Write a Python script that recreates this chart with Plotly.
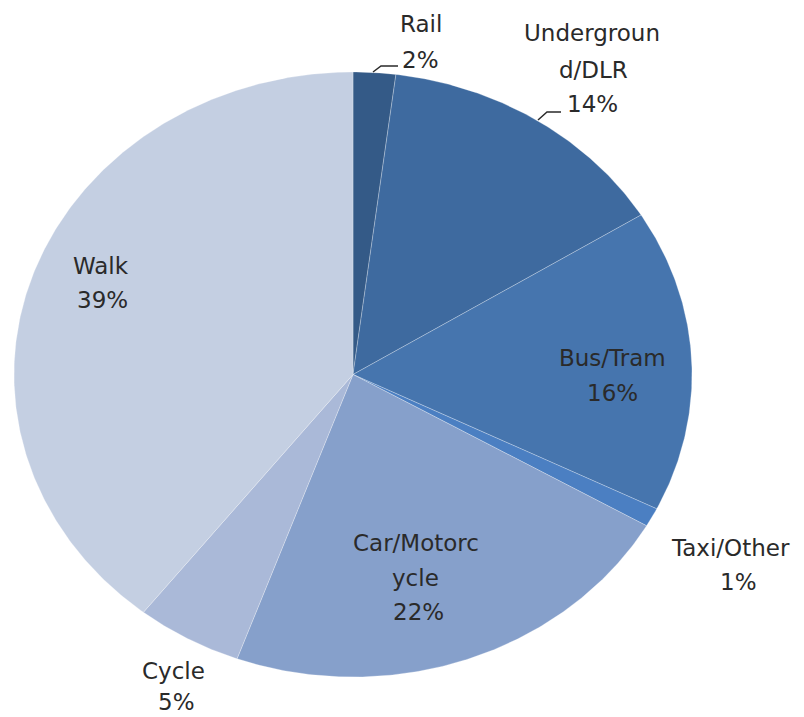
import numpy as np
import plotly.graph_objects as go

# ---- data ----
categories = ["Rail", "Underground/DLR", "Bus/Tram", "Taxi/Other", "Car/Motorcycle", "Cycle", "Walk"]
shares = [2, 14, 16, 1, 22, 5, 39]
pct_labels = ["2%", "14%", "16%", "1%", "22%", "5%", "39%"]
name_lines = [["Rail"], ["Undergroun", "d/DLR"], ["Bus/Tram"], ["Taxi/Other"],
              ["Car/Motorc", "ycle"], ["Cycle"], ["Walk"]]
colors = ["#345a87", "#3e6a9f", "#4675ae", "#4b7fc2", "#86a0cb", "#aab9d8", "#c4cfe2"]

# ---- layout geometry (pixel space) ----
W, H = 804, 717
cx, cy, rx, ry = 353, 374.5, 339, 302.5
label_pos = [
    [(421, 24), (420, 60)],
    [(592, 33), (593, 70), (592, 104)],
    [(612, 358), (612, 393)],
    [(730, 548), (738, 582)],
    [(416, 543), (415, 578), (418, 612)],
    [(173, 671), (176, 702)],
    [(101, 266), (102, 300)],
]
leaders = [
    [(373, 72), (381, 66), (398, 66)],
    [(538, 120), (547, 112), (561, 112)],
]

total = float(sum(shares))
fig = go.Figure()
start = 0.0
for cat, v, col in zip(categories, shares, colors):
    a0 = start / total * 2 * np.pi
    a1 = (start + v) / total * 2 * np.pi
    n = max(int((a1 - a0) / (2 * np.pi) * 720), 4)
    t = np.linspace(a0, a1, n)
    xs = np.concatenate([[cx], cx + rx * np.sin(t), [cx]])
    ys = np.concatenate([[cy], cy - ry * np.cos(t), [cy]])
    fig.add_trace(go.Scatter(x=xs, y=ys, mode="lines", fill="toself", fillcolor=col,
                             line=dict(color="rgba(255,255,255,0.45)", width=0.6),
                             name=cat, hoverinfo="name", showlegend=False))
    start += v

font = dict(family="DejaVu Sans", size=23, color="#2a2a2a")
anns = []
for lines, pct, pos in zip(name_lines, pct_labels, label_pos):
    texts = lines + [pct]
    for txt, (x, y) in zip(texts, pos):
        anns.append(dict(x=x, y=y, xref="x", yref="y", text=txt, showarrow=False,
                         font=font, xanchor="center", yanchor="middle"))

shapes = []
for pts in leaders:
    path = "M " + " L ".join(f"{x},{y}" for x, y in pts)
    shapes.append(dict(type="path", path=path, xref="x", yref="y",
                       line=dict(color="#2a2a2a", width=1.5)))

fig.update_layout(
    width=W, height=H, margin=dict(l=0, r=0, t=0, b=0),
    paper_bgcolor="white", plot_bgcolor="white",
    xaxis=dict(range=[0, W], visible=False, fixedrange=True),
    yaxis=dict(range=[H, 0], visible=False, fixedrange=True),
    annotations=anns, shapes=shapes, showlegend=False,
)
fig.write_html("out.html")
